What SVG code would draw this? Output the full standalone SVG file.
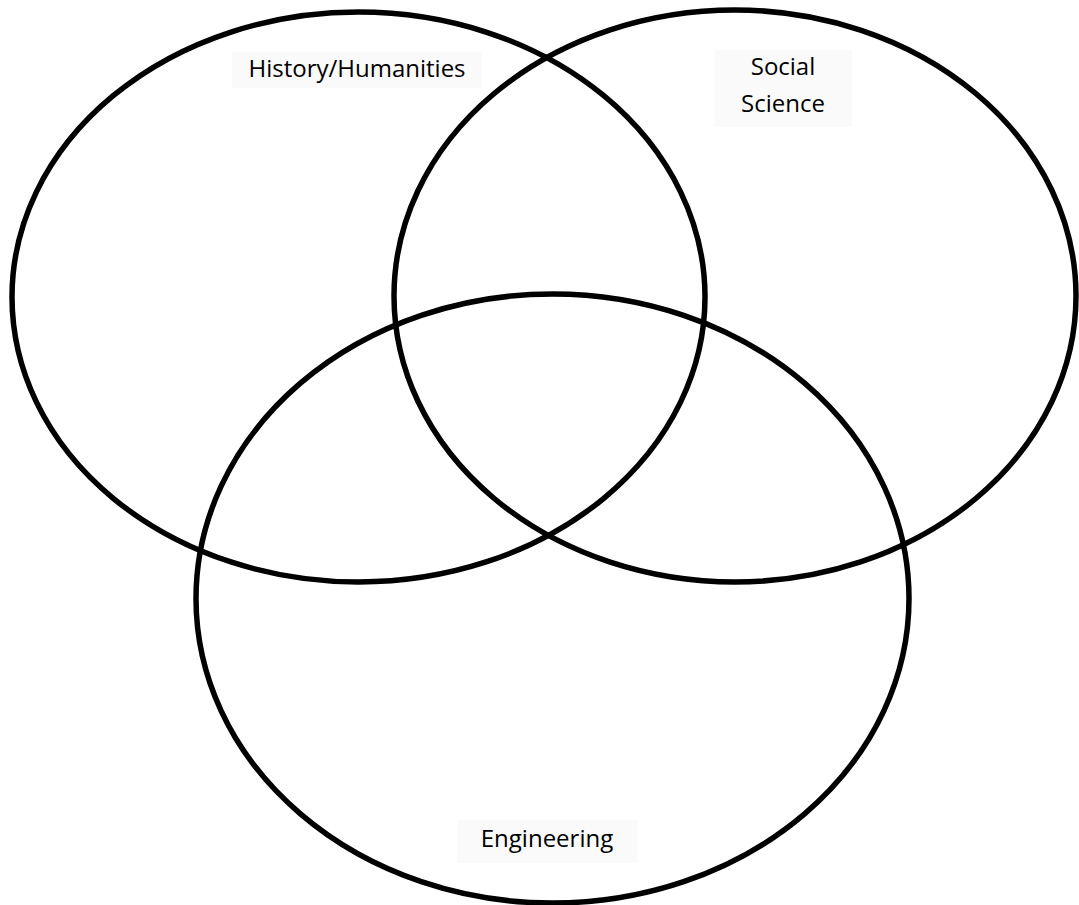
<svg xmlns="http://www.w3.org/2000/svg" width="1079" height="905" viewBox="0 0 1079 905">
  <style>
    .ring { fill: none; stroke: #000; stroke-width: 5.5; }
    .box { fill: #fafafa; stroke: none; }
    .lbl { font-family: "Open Sans", "Liberation Sans", Arial, sans-serif; font-size: 24px; fill: #000; text-anchor: middle; }
  </style>
  <rect width="1079" height="905" fill="#fff"/>
  <g id="label-boxes">
    <rect class="box" x="232" y="52" width="250" height="36"/>
    <rect class="box" x="715" y="50" width="137" height="77"/>
    <rect class="box" x="457" y="820" width="180" height="43"/>
  </g>
  <g id="connectors"></g>
  <g id="history">
    <ellipse class="ring" cx="358.5" cy="297" rx="346.5" ry="285"/>
    <text class="lbl" x="357" y="77">History/Humanities</text>
  </g>
  <g id="social">
    <ellipse class="ring" cx="735" cy="296" rx="341" ry="286"/>
    <text class="lbl" x="783" y="75">Social</text>
    <text class="lbl" x="783" y="112">Science</text>
  </g>
  <g id="engineering">
    <ellipse class="ring" cx="552.5" cy="598.5" rx="356.5" ry="304.5"/>
    <text class="lbl" x="547" y="847">Engineering</text>
  </g>
</svg>
